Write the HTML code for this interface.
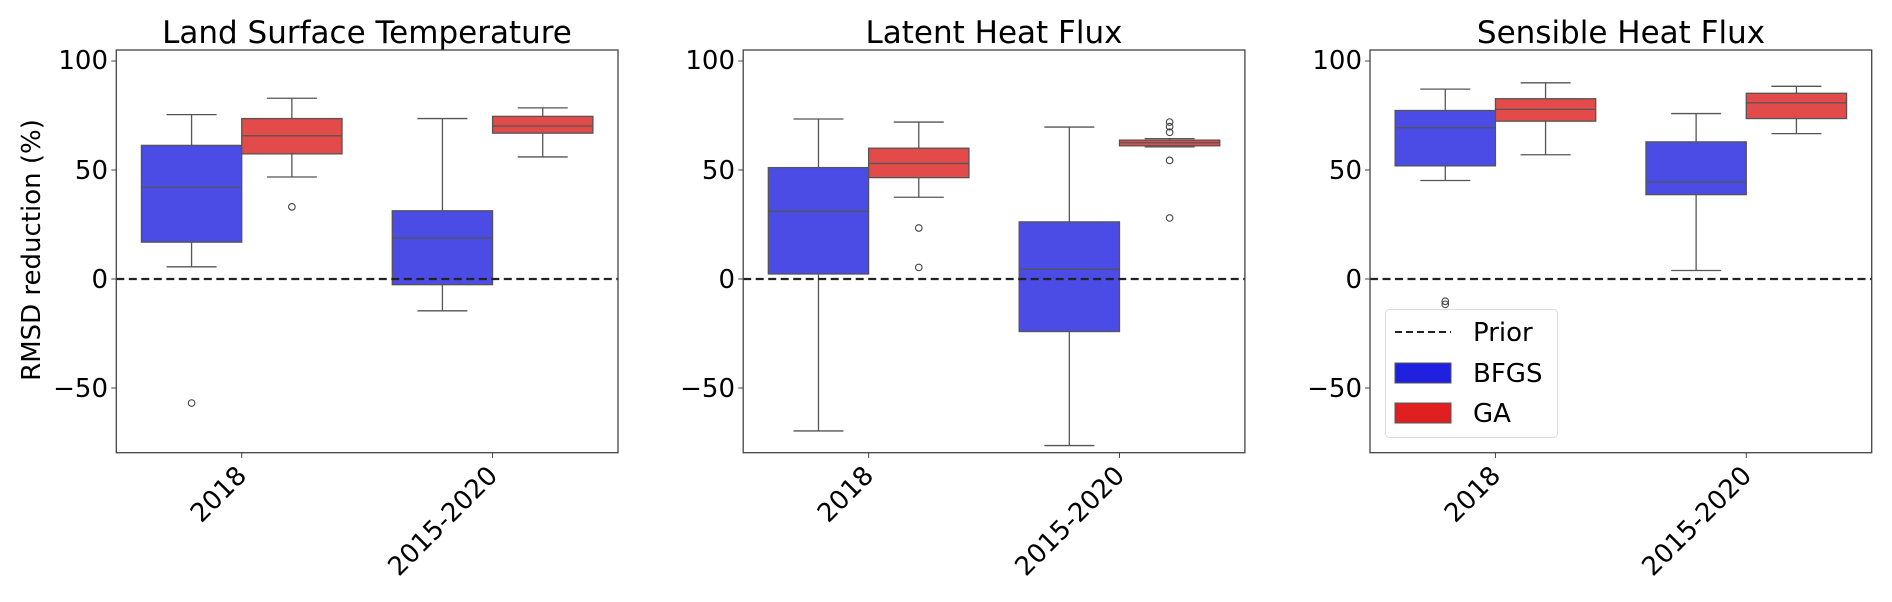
<!DOCTYPE html>
<html><head><meta charset="utf-8"><style>
html,body{margin:0;padding:0;background:#fff;}
svg{display:block;font-family:"DejaVu Sans","Liberation Sans",sans-serif;}
</style></head><body>
<svg id="s" width="1892" height="602" viewBox="0 0 1892 602" xmlns="http://www.w3.org/2000/svg">
<rect width="1892" height="602" fill="#fff"/>
<g id="plots"></g>
<!-- titles -->
<text x="367" y="43" font-size="31" text-anchor="middle">Land Surface Temperature</text>
<text x="994" y="43" font-size="31" text-anchor="middle">Latent Heat Flux</text>
<text x="1621" y="43" font-size="31" text-anchor="middle">Sensible Heat Flux</text>
<text transform="translate(40,250) rotate(-90)" font-size="26" text-anchor="middle">RMSD reduction (%)</text>
<g font-size="26" text-anchor="end">
<text x="108" y="69">100</text><text x="108" y="288">0</text><text x="108" y="179">50</text><text x="108" y="397">−50</text>
<text x="735" y="69">100</text><text x="735" y="288">0</text><text x="735" y="179">50</text><text x="735" y="397">−50</text>
<text x="1362" y="69">100</text><text x="1362" y="288">0</text><text x="1362" y="179">50</text><text x="1362" y="397">−50</text>
</g>
<g font-size="26" text-anchor="end">
<text transform="translate(248,477) rotate(-45)">2018</text>
<text transform="translate(499,477) rotate(-45)">2015-2020</text>
<text transform="translate(875,477) rotate(-45)">2018</text>
<text transform="translate(1126,477) rotate(-45)">2015-2020</text>
<text transform="translate(1502,477) rotate(-45)">2018</text>
<text transform="translate(1753,477) rotate(-45)">2015-2020</text>
</g>
<!-- legend -->
<rect x="1385.5" y="309.5" width="172" height="128" rx="4" fill="#fff" fill-opacity="0.85" stroke="#ddd" stroke-width="1"/>
<line x1="1395" y1="332" x2="1451" y2="332" stroke="#222" stroke-width="2" stroke-dasharray="7,4"/>
<rect x="1395" y="363" width="56" height="20" fill="#2020e0" stroke="#555" stroke-width="1"/>
<rect x="1395" y="403" width="56" height="20" fill="#e02020" stroke="#555" stroke-width="1"/>
<g font-size="26"><text x="1473" y="341">Prior</text><text x="1473" y="382">BFGS</text><text x="1473" y="422">GA</text></g>
</svg>
<script>
var g=document.getElementById('plots');var NS='http://www.w3.org/2000/svg';
function el(t,a){var e=document.createElementNS(NS,t);for(var k in a)e.setAttribute(k,a[k]);g.appendChild(e);return e;}
function Y(v){return 279-2.18*v;}
var lefts=[116.3,743.2,1370],W=501.7;
var data=[
[[75.4,61.3,42.1,16.9,5.6,[-56.9]],[82.9,73.6,65.7,57.4,46.8,[33.1]],[73.6,31.3,18.8,-2.6,-14.6,[]],[78.5,74.6,70.2,66.9,56,[]]],
[[73.4,51.1,31,2.3,-69.7,[]],[72,60,53,46.5,37.5,[23.4,5.3]],[69.7,26.2,4.4,-24.1,-76.4,[]],[64.4,63.7,62.5,61.1,60.6,[72,69.9,67.3,54.4,28]]],
[[87.1,77.3,69.4,51.9,45.2,[-10.2,-11.6]],[90,82.7,77.8,72.4,57,[]],[75.9,62.9,44.5,38.7,3.9,[]],[88.4,85.2,80.8,73.6,66.7,[]]]
];
for(var p=0;p<3;p++){
 var L=lefts[p],R=L+W;
 [100,50,0,-50].forEach(function(v){el('line',{x1:L-5,x2:L,y1:Y(v),y2:Y(v),stroke:'#444','stroke-width':1});});
 for(var c=0;c<2;c++){
  var cx=L+W*(0.25+0.5*c);
  el('line',{x1:cx,x2:cx,y1:452.7,y2:458,stroke:'#444','stroke-width':1});
  for(var h=0;h<2;h++){
   var d=data[p][c*2+h];var x0=h?cx:cx-100.3,x1=x0+100.3,m=(x0+x1)/2;
   var col=h?'#e34b4b':'#4b4be6';
   el('line',{x1:m,x2:m,y1:Y(d[0]),y2:Y(d[1]),stroke:'#555','stroke-width':1.3});
   el('line',{x1:m,x2:m,y1:Y(d[3]),y2:Y(d[4]),stroke:'#555','stroke-width':1.3});
   el('line',{x1:m-25,x2:m+25,y1:Y(d[0]),y2:Y(d[0]),stroke:'#555','stroke-width':1.3});
   el('line',{x1:m-25,x2:m+25,y1:Y(d[4]),y2:Y(d[4]),stroke:'#555','stroke-width':1.3});
   el('rect',{x:x0,y:Y(d[1]),width:100.3,height:Y(d[3])-Y(d[1]),fill:col,stroke:'#555','stroke-width':1.3});
   el('line',{x1:x0,x2:x1,y1:Y(d[2]),y2:Y(d[2]),stroke:'#555','stroke-width':1.3});
   d[5].forEach(function(o){el('circle',{cx:m,cy:Y(o),r:3.3,fill:'none',stroke:'#444','stroke-width':1.1});});
  }
 }
 el('line',{x1:L,x2:R,y1:Y(0),y2:Y(0),stroke:'#222','stroke-width':2.2,'stroke-dasharray':'8,4.5'});
 el('rect',{x:L,y:50,width:W,height:402.7,fill:'none',stroke:'#444','stroke-width':1.3});
}
</script>
</body></html>
